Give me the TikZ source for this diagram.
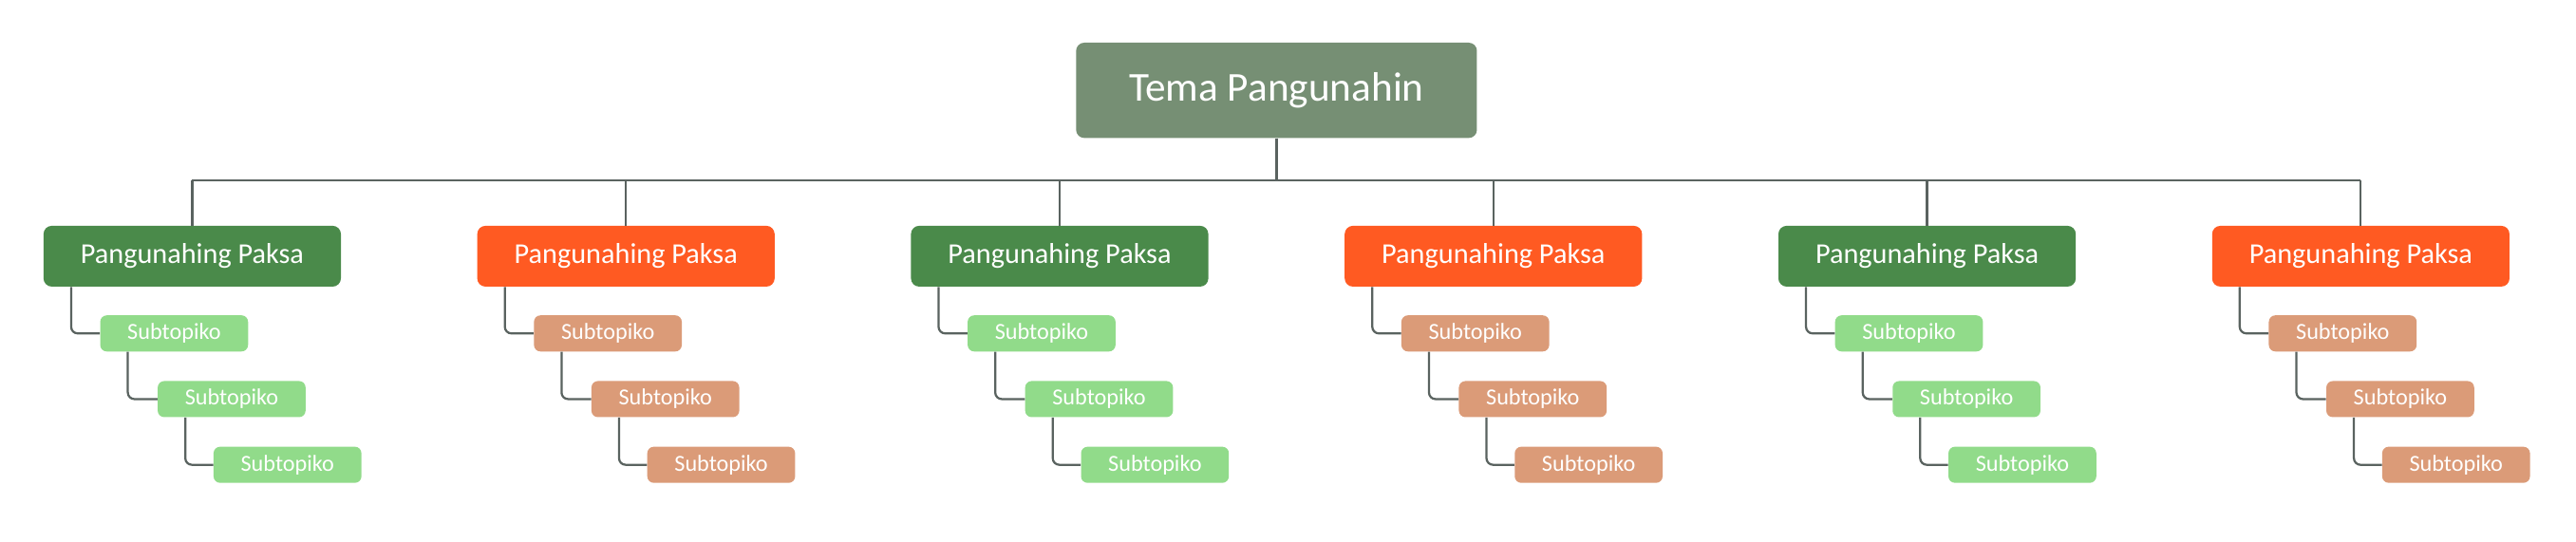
\documentclass[tikz,border=0pt]{standalone}
\usepackage{fontspec}
\setmainfont{Carlito}
\definecolor{rootcol}{HTML}{768F74}
\definecolor{greenmain}{HTML}{4A8A4A}
\definecolor{orangemain}{HTML}{FF5A22}
\definecolor{greensub}{HTML}{91DB8A}
\definecolor{orangesub}{HTML}{DB9B78}
\definecolor{linecol}{HTML}{5A6360}
\tikzset{
  roottopic/.style={rounded corners=5pt, fill=rootcol, text=white, minimum width=244pt, minimum height=58pt, font=\fontsize{25}{28}\selectfont},
  maintopic/.style={rounded corners=5pt, text=white, minimum width=181pt, minimum height=37pt, font=\fontsize{17.5}{20}\selectfont},
  subtopic/.style={rounded corners=4pt, text=white, minimum width=90pt, minimum height=22pt, inner sep=1pt, font=\fontsize{14}{16}\selectfont},
  link/.style={draw=linecol, line width=1.3pt, rounded corners=4pt}
}
\begin{document}
\begin{tikzpicture}[x=1pt, y=-1pt]
    % Canvas
    \useasboundingbox[fill=white] (0,0) rectangle (1568,330);

    % Root topic
    \node[roottopic] (root) at (777,55) {Tema Pangunahin};
    \coordinate (bar) at (777,110);
    \draw[link, rounded corners=0pt] (root.south) -- (bar);

    % Main topics with their subtopics
    \foreach \i/\mainc/\subc in {1/greenmain/greensub, 2/orangemain/orangesub, 3/greenmain/greensub,
                                 4/orangemain/orangesub, 5/greenmain/greensub, 6/orangemain/orangesub} {
        \pgfmathsetmacro{\cx}{117+264*(\i-1)}
        \node[maintopic, fill=\mainc] (main\i) at (\cx,156) {Pangunahing Paksa};
        \draw[link, rounded corners=0pt] (main\i.north) -- (\cx,110);
        \node[subtopic, fill=\subc] (sub\i a) at (\cx-11,203) {Subtopiko};
        \node[subtopic, fill=\subc] (sub\i b) at (\cx+24,243) {Subtopiko};
        \node[subtopic, fill=\subc] (sub\i c) at (\cx+58,283) {Subtopiko};
        \draw[link] ([xshift=17pt]main\i.south west) |- (sub\i a.west);
        \draw[link] ([xshift=17pt]sub\i a.south west) |- (sub\i b.west);
        \draw[link] ([xshift=17pt]sub\i b.south west) |- (sub\i c.west);
    }

    % Horizontal bar
    \draw[link, rounded corners=0pt] (117,110) -- (1437,110);
\end{tikzpicture}
\end{document}
